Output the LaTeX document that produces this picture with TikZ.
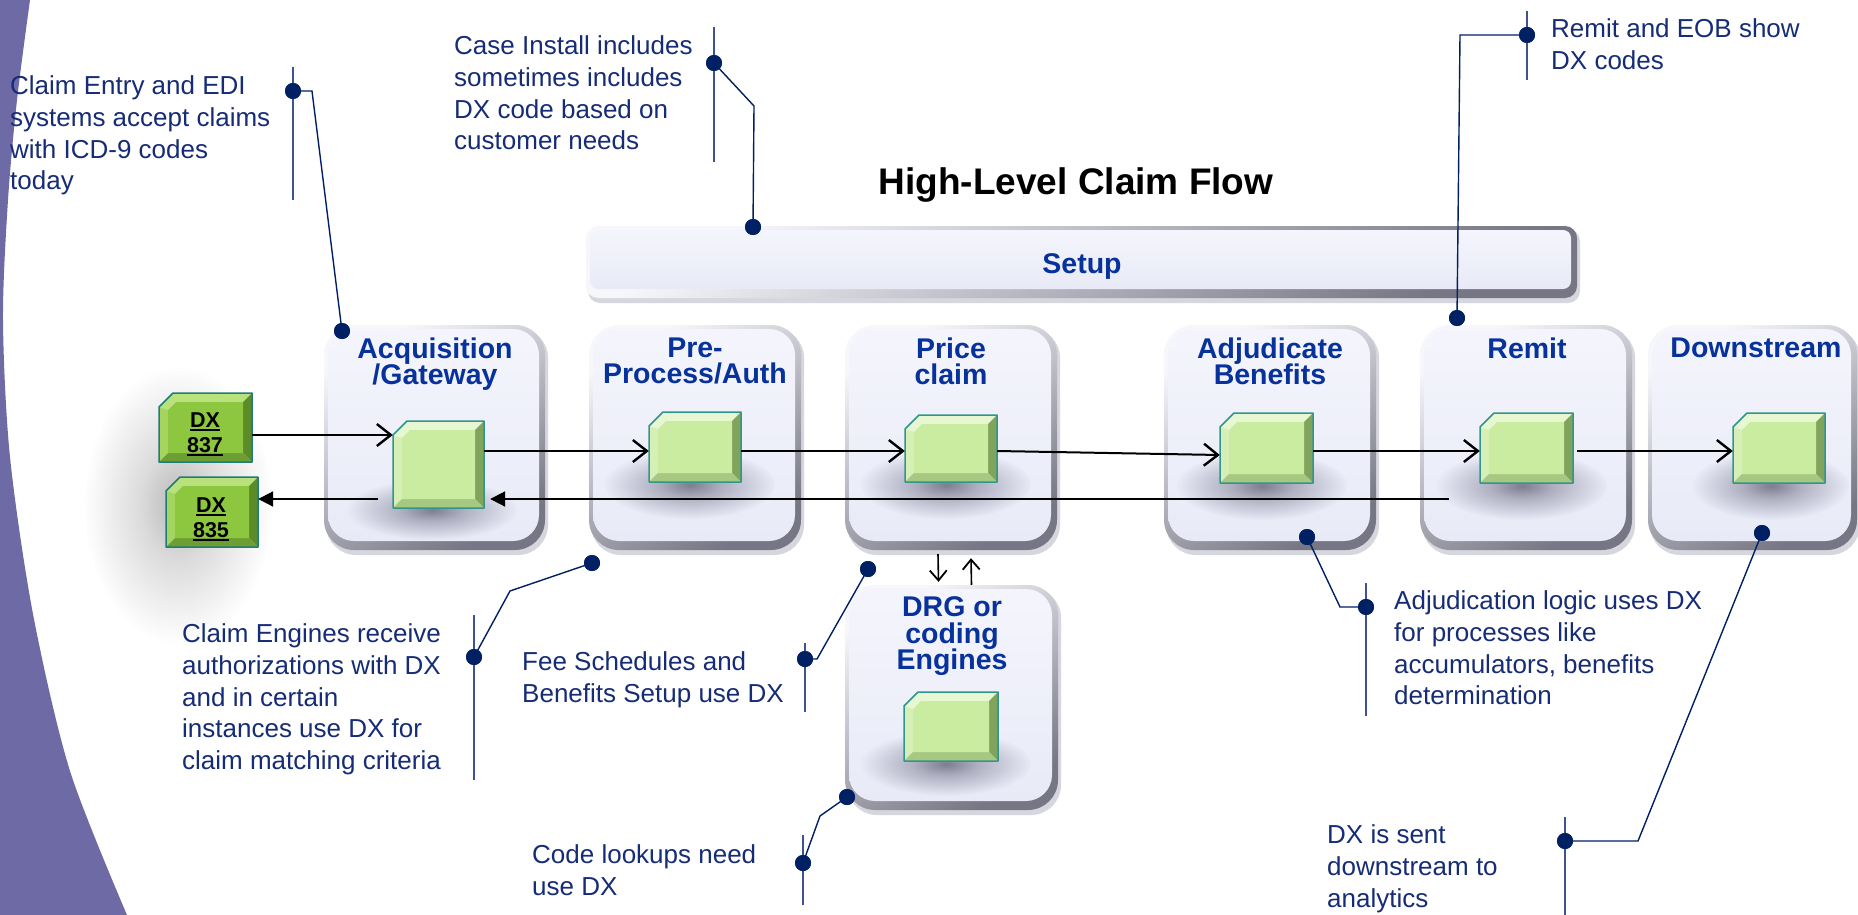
\documentclass[tikz,border=0pt]{standalone}
\usepackage{fontspec}
\setmainfont{Liberation Sans}
\usetikzlibrary{arrows.meta,fit,calc}
\definecolor{cBand}{RGB}{110,106,165}
\definecolor{cNavy}{RGB}{0,32,100}
\definecolor{cText}{RGB}{22,44,118}
\definecolor{cVbar}{RGB}{62,82,145}
\definecolor{cTitle}{RGB}{8,50,155}
\definecolor{cFace}{RGB}{232,234,247}
\definecolor{cFaceHi}{RGB}{244,245,252}
\definecolor{cRimL}{RGB}{246,246,251}
\definecolor{cRimD}{RGB}{118,118,132}
\definecolor{cOutShd}{RGB}{214,214,222}
\definecolor{cShd}{RGB}{125,125,145}
\definecolor{gIn}{RGB}{201,236,160}
\definecolor{gTop}{RGB}{230,247,210}
\definecolor{gLeft}{RGB}{214,239,183}
\definecolor{gRight}{RGB}{128,164,92}
\definecolor{gBot}{RGB}{166,200,128}
\definecolor{gEdge}{RGB}{48,150,140}
\definecolor{dIn}{RGB}{141,198,63}
\definecolor{dTop}{RGB}{186,226,124}
\definecolor{dLeft}{RGB}{165,213,94}
\definecolor{dRight}{RGB}{92,140,40}
\definecolor{dBot}{RGB}{108,158,51}
\definecolor{dEdge}{RGB}{30,125,120}
\pgfdeclareradialshading{glowface}{\pgfpoint{0bp}{0bp}}{color(0bp)=(cShd); color(9bp)=(cShd!55!cFace); color(25bp)=(cFace); color(50bp)=(cFace)}
\pgfdeclareradialshading{glowwhite}{\pgfpoint{0bp}{0bp}}{color(0bp)=(black!28); color(10bp)=(black!14); color(25bp)=(white); color(50bp)=(white)}
\newcommand\pbox[6]{%
  \fill[cOutShd, rounded corners=#6pt] (#2+2,#3+3) rectangle (#4+3,#5+5);
  \shade[top color=cRimL, bottom color=cRimD, shading angle=30, rounded corners=#6pt] (#2,#3) rectangle (#4,#5);
  \shade[top color=cFaceHi, bottom color=cFace, rounded corners=#6pt-4pt] (#2+4,#3+4) rectangle (#4-6,#5-9);
  \node[fit={(#2,#3) (#4,#5)}, inner sep=0pt] (#1) {};
}
\newcommand\gbox[6]{%
  \fill[#6Top] (#2,#3+14) -- (#2+14,#3) -- (#4,#3) -- (#4-9,#3+9) -- (#2+17,#3+9) -- (#2+9,#3+17) -- cycle;
  \fill[#6Left] (#2,#3+14) -- (#2+9,#3+17) -- (#2+9,#5-9) -- (#2,#5) -- cycle;
  \fill[#6Right] (#4,#3) -- (#4,#5) -- (#4-9,#5-9) -- (#4-9,#3+9) -- cycle;
  \fill[#6Bot] (#2,#5) -- (#4,#5) -- (#4-9,#5-9) -- (#2+9,#5-9) -- cycle;
  \fill[#6In] (#2+9,#3+17) -- (#2+17,#3+9) -- (#4-9,#3+9) -- (#4-9,#5-9) -- (#2+9,#5-9) -- cycle;
  \draw[#6Edge, line width=1.5pt, line join=round] (#2,#3+14) -- (#2+14,#3) -- (#4,#3) -- (#4,#5) -- (#2,#5) -- cycle;
  \node[fit={(#2,#3) (#4,#5)}, inner sep=0pt] (#1) {};
}
\newcommand\uln[1]{\setbox0\hbox{#1}\rlap{\rule[-3.5pt]{\wd0}{2pt}}\box0}
\tikzset{
  fwd/.style={line width=2pt, -{Straight Barb[length=14pt,width=22pt,line width=2.4pt]}},
  bwd/.style={line width=2pt, -{Triangle[length=15pt,width=15pt]}},
  smallarr/.style={line width=1.6pt, -{Straight Barb[length=10pt,width=17pt,line width=1.8pt]}},
  cline/.style={draw=cNavy, line width=1.4pt},
  vbar/.style={draw=cVbar, line width=2pt},
  dot/.style={circle, fill=cNavy, inner sep=0pt, minimum size=16pt},
  ctxt/.style={text=cText, font=\fontsize{26}{31.8}\selectfont, align=left, inner sep=0pt, anchor=north west},
  btitle/.style={text=cTitle, font=\bfseries\fontsize{28.5}{26.5}\selectfont, align=center, inner sep=0pt, anchor=north},
  dxtxt/.style={text=black, font=\bfseries\fontsize{21.5}{25}\selectfont, align=center, inner sep=0pt, anchor=north},
}
\begin{document}
\lineskiplimit=-20pt
\begin{tikzpicture}[x=1pt,y=-1pt]
\useasboundingbox (0,0) rectangle (1858,915);
\fill[white] (0,0) rectangle (1858,915);
% left band
\fill[cBand] (0,0) -- plot[smooth] coordinates {(30,0) (17,100) (8,200) (3,320) (10,457) (33,614) (70,771) (127,915)} -- (0,915) -- cycle;

% title
\node[anchor=base, font=\bfseries\fontsize{37}{44}\selectfont, inner sep=0pt] (title) at (1076,194) {High-Level Claim Flow};

% setup bar
\pbox{setup}{586}{226}{1577}{298}{12}
\node[anchor=base, text=cTitle, font=\bfseries\fontsize{28.5}{34}\selectfont, inner sep=0pt] (setuplbl) at (1082,273) {Setup};

% DX shadow
\shade[shading=glowwhite] (178,505) ellipse [x radius=95pt, y radius=140pt];

% process boxes
\pbox{acq}{324}{325}{545}{550}{30}
\pbox{pre}{589}{325}{801}{550}{30}
\pbox{price}{845}{325}{1057}{550}{30}
\pbox{adj}{1164}{325}{1376}{550}{30}
\pbox{remit}{1420}{325}{1632}{550}{30}
\pbox{down}{1648}{325}{1857}{550}{30}
\pbox{drg}{845}{585}{1058}{810}{30}

% inner shadows
\shade[shading=glowface] (432,510) ellipse [x radius=85pt, y radius=30pt];
\shade[shading=glowface] (690,485) ellipse [x radius=85pt, y radius=34pt];
\shade[shading=glowface] (946,485) ellipse [x radius=85pt, y radius=34pt];
\shade[shading=glowface] (1262,486) ellipse [x radius=85pt, y radius=34pt];
\shade[shading=glowface] (1522,486) ellipse [x radius=85pt, y radius=34pt];
\shade[shading=glowface] (1771,486) ellipse [x radius=78pt, y radius=34pt];
\shade[shading=glowface] (946,764) ellipse [x radius=85pt, y radius=32pt];

% box titles
\node[btitle] (tacq) at (435,337.6) {Acquisition\\/Gateway};
\node[btitle] (tpre) at (695,337.6) {Pre-\\Process/Auth};
\node[btitle] (tprice) at (951,337.6) {Price\\claim};
\node[btitle] (tadj) at (1270,337.6) {Adjudicate\\Benefits};
\node[btitle] (tremit) at (1527,337.6) {Remit};
\node[btitle] (tdown) at (1756,337.6) {Downstream};
\node[btitle] (tdrg) at (952,596.6) {DRG or\\coding\\Engines};

% green boxes
\gbox{acqg}{393}{421}{484}{508}{g}
\gbox{preg}{649}{412}{741}{482}{g}
\gbox{priceg}{905}{415}{997}{482}{g}
\gbox{adjg}{1220}{413}{1313}{483}{g}
\gbox{remitg}{1480}{413}{1573}{483}{g}
\gbox{downg}{1733}{413}{1825}{483}{g}
\gbox{drgg}{904}{692}{998}{761}{g}
\gbox{dx837}{159}{393}{252}{462}{d}
\gbox{dx835}{166}{477}{258}{547}{d}
\node[dxtxt] (l837) at (205,412.6) {\uln{DX}\\\uln{837}};
\node[dxtxt] (l835) at (211,497.6) {\uln{DX}\\\uln{835}};

% flow arrows
\coordinate (in837) at (0,435);
\coordinate (rowA) at (0,451);
\coordinate (rowB) at (0,455);
\coordinate (rowR) at (0,499);
\draw[fwd] (dx837.east |- in837) -- (acqg.west |- in837);
\draw[fwd] (acqg.east |- rowA) -- (preg.west |- rowA);
\draw[fwd] (preg.east |- rowA) -- (priceg.west |- rowA);
\draw[fwd] (priceg.east |- rowA) -- (adjg.west |- rowB);
\draw[fwd] (adjg.east |- rowA) -- (remitg.west |- rowA);
\draw[fwd] ([xshift=4pt]remitg.east |- rowA) -- (downg.west |- rowA);
\coordinate (retS) at ($(remitg.west |- rowR)+(-31,0)$);
\coordinate (retM) at ($(acqg.west |- rowR)+(-15,0)$);
\draw[bwd, shorten >=6pt] (retS) -- (acqg.east |- rowR);
\draw[bwd] (retM) -- (dx835.east |- rowR);
\draw[smallarr] ([xshift=-13pt,yshift=-4pt]price.south) -- ([xshift=-13pt,yshift=3pt]drg.north);
\draw[smallarr] ([xshift=20pt]drg.north) -- ([xshift=20pt,yshift=-8pt]price.south);

% callout texts
\node[ctxt] (t1) at (10,75.4) {Claim Entry and EDI\\systems accept claims\\with ICD-9 codes\\today};
\node[ctxt] (t2) at (454,35.4) {Case Install includes\\sometimes includes\\DX code based on\\customer needs};
\node[ctxt] (t3) at (1551,18.4) {Remit and EOB show\\DX codes};
\node[ctxt] (t4) at (182,623.4) {Claim Engines receive\\authorizations with DX\\and in certain\\instances use DX for\\claim matching criteria};
\node[ctxt] (t5) at (522,651.4) {Fee Schedules and\\Benefits Setup use DX};
\node[ctxt] (t6) at (532,844.4) {Code lookups need\\use DX};
\node[ctxt] (t7) at (1394,590.4) {Adjudication logic uses DX\\for processes like\\accumulators, benefits\\determination};
\node[ctxt] (t8) at (1327,824.4) {DX is sent\\downstream to\\analytics};

% callout dots (positions)
\node[dot] (d1) at (293,91) {};   \node[dot] (e1) at (342,331) {};
\node[dot] (d2) at (714,63) {};   \node[dot] (e2) at (753,227) {};
\node[dot] (d3) at (1527,35) {};  \node[dot] (e3) at (1457,318) {};
\node[dot] (d4) at (474,657) {};  \node[dot] (e4) at (592,563) {};
\node[dot] (d5) at (805,659) {};  \node[dot] (e5) at (868,569) {};
\node[dot] (d6) at (803,863) {};  \node[dot] (e6) at (847,797) {};
\node[dot] (d7) at (1366,607) {}; \node[dot] (e7) at (1307,537) {};
\node[dot] (d8) at (1565,841) {}; \node[dot] (e8) at (1762,533) {};
\coordinate (k1) at (312,91);
\coordinate (k2) at (754,106);
\coordinate (k3) at (1460,35);
\coordinate (k4) at (510,591);
\coordinate (k5) at (817,659);
\coordinate (k6) at (820,816);
\coordinate (k7) at (1340,607);
\coordinate (k8) at (1638,841);

% bars
\draw[vbar] ([yshift=24pt]d1.center) -- ([yshift=-109pt]d1.center);
\draw[vbar] ([yshift=36pt]d2.center) -- ([yshift=-99pt]d2.center);
\draw[vbar] ([yshift=24pt]d3.center) -- ([yshift=-45pt]d3.center);
\draw[vbar] ([yshift=42pt]d4.center) -- ([yshift=-123pt]d4.center);
\draw[vbar] ([yshift=16pt]d5.center) -- ([yshift=-53pt]d5.center);
\draw[vbar] ([yshift=28pt]d6.center) -- ([yshift=-42pt]d6.center);
\draw[vbar] ([yshift=24pt]d7.center) -- ([yshift=-109pt]d7.center);
\draw[vbar] ([yshift=24pt]d8.center) -- ([yshift=-74pt]d8.center);

% leader lines
\draw[cline] (d1.center) -- (k1) -- (e1.center);
\draw[cline] (d2.center) -- (k2) -- (e2.center);
\draw[cline] (d3.center) -- (k3) -- (e3.center);
\draw[cline] (d4.center) -- (k4) -- (e4.center);
\draw[cline] (d5.center) -- (k5) -- (e5.center);
\draw[cline] (d6.center) -- (k6) -- (e6.center);
\draw[cline] (d7.center) -- (k7) -- (e7.center);
\draw[cline] (d8.center) -- (k8) -- (e8.center);
\foreach \n in {d1,e1,d2,e2,d3,e3,d4,e4,d5,e5,d6,e6,d7,e7,d8,e8}{\fill[cNavy] (\n.center) circle (8pt);}
\end{tikzpicture}
\end{document}
